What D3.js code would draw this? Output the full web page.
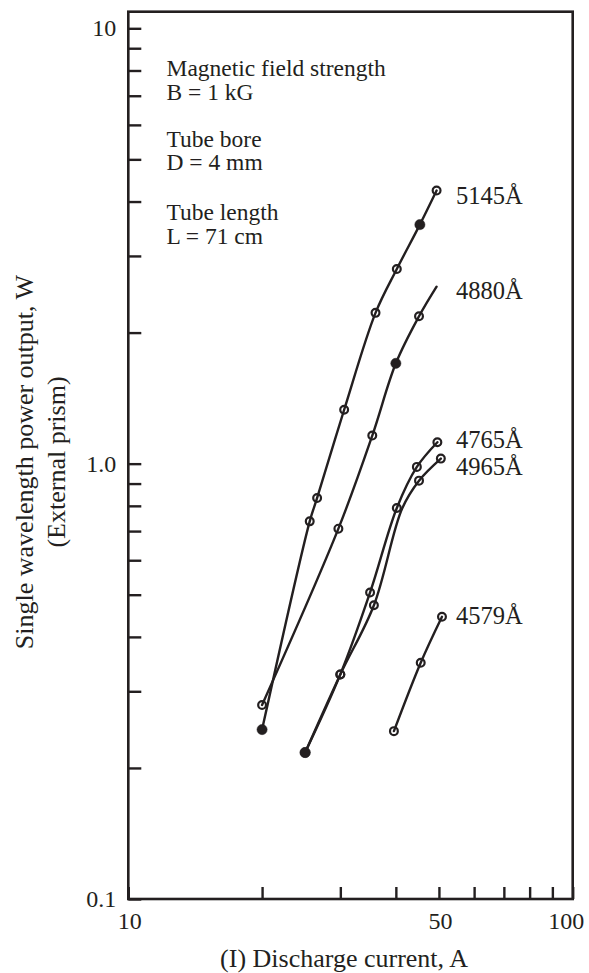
<!DOCTYPE html>
<html>
<head>
<meta charset="utf-8">
<script src="https://cdn.jsdelivr.net/npm/d3@7"></script>
<style>
  html, body { margin: 0; padding: 0; background: #fff; }
  svg { display: block; }
  text { font-family: "Liberation Serif", "Times New Roman", serif; fill: #231f20; }
</style>
</head>
<body>
<script>
// ---------------- DATA ----------------
// Discharge current (A) and single-wavelength power output (W); marker: "open" | "filled" | "none"
const series5145_I = [20, 25.6, 26.6, 30.6, 36.0, 40.2, 45.3, 49.4];
const series5145_P = [0.245, 0.737, 0.834, 1.33, 2.22, 2.80, 3.54, 4.24];
const series5145_M = ["filled", "open", "open", "open", "open", "open", "filled", "open"];

const series4880_I = [20, 29.7, 35.4, 40.0, 45.1, 49.4];
const series4880_P = [0.279, 0.709, 1.16, 1.70, 2.18, 2.55];
const series4880_M = ["open", "open", "open", "filled", "open", "none"];

const series4765_I = [25.0, 30.0, 35.0, 40.2, 44.6, 49.6];
const series4765_P = [0.217, 0.328, 0.506, 0.791, 0.983, 1.12];
const series4765_M = ["filled", "open", "open", "open", "open", "open"];

const series4965_I = [25.0, 30.0, 35.7, 41.3, 45.1, 50.5];
const series4965_P = [0.217, 0.328, 0.473, 0.788, 0.914, 1.027];
const series4965_M = ["filled", "open", "open", "none", "open", "open"];

const series4579_I = [39.6, 45.5, 50.8];
const series4579_P = [0.243, 0.349, 0.445];
const series4579_M = ["open", "open", "open"];

const seriesLabels = ["5145Å", "4880Å", "4765Å", "4965Å", "4579Å"];
const xTickValues = [10, 20, 30, 40, 50, 60, 70, 80, 90, 100];
const xTickLabels = {10: "10", 50: "50", 100: "100"};
const yTickValues = [0.1, 0.2, 0.3, 0.4, 0.5, 0.6, 0.7, 0.8, 0.9, 1, 2, 3, 4, 5, 6, 7, 8, 9, 10];
const yTickLabels = {0.1: "0.1", 1: "1.0", 10: "10"};
const annotationLines = ["Magnetic field strength", "B = 1 kG", "Tube bore", "D = 4 mm", "Tube length", "L = 71 cm"];
const xTitle = "(I) Discharge current, A";
const yTitle1 = "Single wavelength power output, W";
const yTitle2 = "(External prism)";

// ---------------- LAYOUT ----------------
const W = 589, H = 973;
const left = 128.3, right = 572.7, bottom = 899, yTop10 = 28.3, frameTop = 11.7;
const ink = "#231f20";

const svg = d3.select("body").append("svg").attr("width", W).attr("height", H);

const x = d3.scaleLog().domain([10, 100]).range([left, right]);
const y = d3.scaleLog().domain([0.1, 10]).range([bottom, yTop10]);

// frame
svg.append("rect")
  .attr("x", left).attr("y", frameTop)
  .attr("width", right - left).attr("height", bottom - frameTop)
  .attr("fill", "none").attr("stroke", ink).attr("stroke-width", 2.6);

// y axis
const yAxis = d3.axisLeft(y)
  .tickValues(yTickValues)
  .tickSizeInner(-13).tickSizeOuter(0).tickPadding(12)
  .tickFormat(d => yTickLabels[d] || "");
const gy = svg.append("g").attr("transform", `translate(${left},0)`).call(yAxis);
gy.select(".domain").remove();
gy.selectAll(".tick line").attr("stroke", ink).attr("stroke-width", 2.4);
gy.selectAll(".tick text").attr("font-size", 24).attr("font-family", "Liberation Serif").attr("fill", ink);

// x axis
const xAxis = d3.axisBottom(x)
  .tickValues(xTickValues)
  .tickSizeInner(-12).tickSizeOuter(0).tickPadding(13)
  .tickFormat(d => xTickLabels[d] || "");
const gx = svg.append("g").attr("transform", `translate(0,${bottom})`).call(xAxis);
gx.select(".domain").remove();
gx.selectAll(".tick line").attr("stroke", ink).attr("stroke-width", 2.4);
gx.selectAll(".tick text").attr("font-size", 24).attr("font-family", "Liberation Serif").attr("fill", ink)
  .attr("dx", d => d === 100 ? -7 : 1);

// axis titles
svg.append("text").attr("x", 344).attr("y", 967).attr("text-anchor", "middle")
  .attr("font-size", 26).text(xTitle);
svg.append("text").attr("transform", "translate(33,462) rotate(-90)").attr("text-anchor", "middle")
  .attr("font-size", 26).text(yTitle1);
svg.append("text").attr("transform", "translate(65,462) rotate(-90)").attr("text-anchor", "middle")
  .attr("font-size", 26).text(yTitle2);

// annotation
const annBaselines = [76, 99.5, 146.5, 170, 220, 243.5];
svg.append("g").selectAll("text").data(annotationLines).join("text")
  .attr("x", 166.5).attr("y", (d, i) => annBaselines[i])
  .attr("font-size", 23.5).text(d => d);

// series
const allSeries = [
  {I: series5145_I, P: series5145_P, M: series5145_M},
  {I: series4880_I, P: series4880_P, M: series4880_M},
  {I: series4765_I, P: series4765_P, M: series4765_M},
  {I: series4965_I, P: series4965_P, M: series4965_M},
  {I: series4579_I, P: series4579_P, M: series4579_M}
].map((s, k) => ({label: seriesLabels[k], pts: s.I.map((v, i) => ({I: v, P: s.P[i], m: s.M[i]}))}));

const line = d3.line().x(d => x(d.I)).y(d => y(d.P)).curve(d3.curveCatmullRom.alpha(0.5));

const gs = svg.append("g");
allSeries.forEach(s => {
  gs.append("path").attr("d", line(s.pts))
    .attr("fill", "none").attr("stroke", ink).attr("stroke-width", 2.4)
    .attr("stroke-linejoin", "round").attr("stroke-linecap", "round");
});
allSeries.forEach(s => {
  gs.append("g").selectAll("circle").data(s.pts.filter(p => p.m !== "none")).join("circle")
    .attr("cx", d => x(d.I)).attr("cy", d => y(d.P))
    .attr("r", d => d.m === "filled" ? 5.1 : 3.9)
    .attr("fill", d => d.m === "filled" ? ink : "none")
    .attr("stroke", ink).attr("stroke-width", d => d.m === "filled" ? 0.5 : 2.2);
});

// series labels
const labelBaselines = [204, 298.5, 447.5, 475, 624];
svg.append("g").selectAll("text").data(seriesLabels).join("text")
  .attr("x", 456).attr("y", (d, i) => labelBaselines[i])
  .attr("font-size", 24.5).text(d => d);
</script>
</body>
</html>
